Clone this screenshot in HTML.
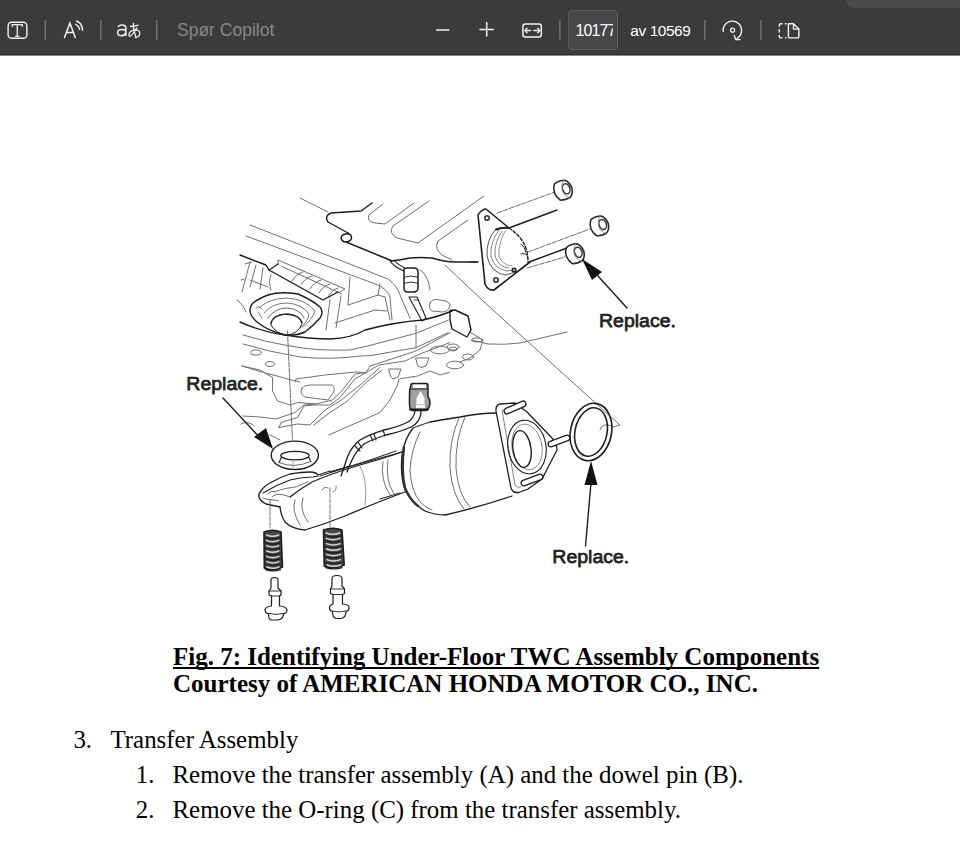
<!DOCTYPE html>
<html><head><meta charset="utf-8">
<style>
html,body{margin:0;padding:0;background:#fff;width:960px;height:842px;overflow:hidden;position:relative;}
#tb{position:absolute;left:0;top:0;width:960px;height:56px;background:#3b3b3b;}
.t{position:absolute;white-space:nowrap;font-family:"Liberation Serif",serif;font-size:24.9px;line-height:30px;color:#000;}
.b{font-weight:bold;font-size:25px;}
.s{font-family:"Liberation Sans",sans-serif;}
#drw{position:absolute;left:0;top:0;}
</style></head><body>
<div id="tb">
<div style="position:absolute;left:0;top:54px;width:960px;height:1px;background:#2f2f2f"></div>
<div style="position:absolute;left:0;top:55px;width:960px;height:1px;background:#8a8a8a"></div>
<div style="position:absolute;left:846px;top:-10px;width:130px;height:17.5px;background:#4a4a4a;border-radius:9px;"></div>
<svg width="960" height="56" style="position:absolute;left:0;top:0" fill="none" stroke="#f2f2f2" stroke-width="1.5" stroke-linecap="round">
<rect x="8.1" y="22.3" width="18.8" height="16" rx="3.6" stroke-width="1.4"/>
<path d="M12.3 26.3 V24.7 H22.3 V26.3 M17.3 24.7 V36.3 M15.6 36.4 H19" stroke-width="1.3"/>
<g stroke="#757575" stroke-width="1.4" stroke-linecap="butt">
<path d="M45.3 20 V39.8 M100.8 20 V39.8 M156.7 20 V39.8 M559.9 20 V39.8 M704.8 20.3 V39.8 M761 20.3 V39.8"/>
</g>
<path d="M64.5 37.6 L69.9 23.2 L75.3 37.6 M66.3 32.6 H73.6"/>
<path d="M75.8 24.3 Q78.8 25.8 79.6 29.3 M76.6 21 Q82 23 82.6 30.3" stroke-width="1.4"/>
<path d="M125.9 35.6 V28.3 Q125.9 25 122 25 Q119.5 25 118.2 26.5 M125.9 30.5 Q124 29.4 121.8 29.4 Q117.6 29.4 117.6 32.6 Q117.6 35.7 121.2 35.7 Q124.3 35.7 125.9 33"/>
<path d="M130.5 26.5 Q134.5 26.4 138 25.2 M133.4 23.4 Q133.2 30 135.6 36.5 M136.8 28 Q133 34 130.5 36 Q128.6 37.2 129 34.2 Q129.8 30.4 135 29.9 Q139.8 29.8 139.8 33.4 Q139.8 36.6 135.5 37.6" stroke-width="1.3"/>
<path d="M436.7 29.9 H448.8 M480 29.4 H493.4 M486.7 22.5 V35.9"/>
<rect x="522.9" y="23.9" width="18.4" height="13" rx="2.4"/>
<path d="M524.8 30.5 H530.7 M527 28.3 L524.8 30.5 L527 32.7 M534 30.5 H539.9 M537.7 28.3 L539.9 30.5 L537.7 32.7" stroke-width="1.3"/>
<path d="M723.1 31.5 A9.3 9.3 0 1 1 737 38.5" stroke-width="1.4"/>
<path d="M734.2 35.5 L735.8 39.6 L740 39.6" stroke-width="1.4"/>
<circle cx="732.6" cy="30.2" r="2" stroke-width="1.3"/>
<path d="M782.5 23.7 H780.8 Q779.3 23.7 779.3 25.2 V26.8 M779.3 29.3 V32.6 M779.3 35 V36.4 Q779.3 37.9 780.8 37.9 H782.5 M784.8 37.9 H786.6 M784.8 23.7 H786.6" stroke-width="1.4" stroke-linecap="butt"/>
<path d="M788.4 23.7 H793.5 L798.9 29.1 V36.4 Q798.9 37.9 797.4 37.9 H789.9 Q788.4 37.9 788.4 36.4 Z M793.5 23.7 V29.1 H798.9" stroke-width="1.4" stroke-linejoin="round"/>
</svg>
<div class="s" style="position:absolute;left:177px;top:19px;font-size:17.5px;line-height:22px;color:#888;font-family:'Liberation Sans',sans-serif;white-space:nowrap">Spør Copilot</div>
<div style="position:absolute;left:568px;top:10px;width:48px;height:38px;border:1px solid #5e5e5e;background:#474747;border-radius:4px;"></div>
<div style="position:absolute;left:575.5px;top:19.5px;width:37px;height:22px;overflow:hidden;font-family:'Liberation Sans',sans-serif;font-size:16px;letter-spacing:-0.9px;line-height:22px;color:#fff;white-space:nowrap">10177</div>
<div style="position:absolute;left:630.3px;top:19.5px;font-family:'Liberation Sans',sans-serif;font-size:15.4px;letter-spacing:-0.4px;line-height:22px;color:#fff;white-space:nowrap">av 10569</div>
</div>
<svg id="drw" width="960" height="842" viewBox="0 0 960 842">
<g fill="none" stroke-linecap="round" stroke-linejoin="round">
<!-- ========== thin structure lines (gray) ========== -->
<g stroke="#707070" stroke-width="1">
<!-- top dashed lines -->
<path d="M300 198 L328 212"/>
<path d="M250 225 L388 279 Q397 285 400 295 L410 318"/>
<path d="M246 236 L378 285 Q388 290 390 297 L392 320"/>
<!-- top rounded panel shapes -->
<path d="M383 204 L369 215 Q366 221 375 223 L385 224 L414 203"/>
<path d="M429 201 L393 226 Q388 233 397 238 L418 243 L484 196"/>
<path d="M468 220 L438 241 Q434 249 442 255 L452 260"/>
<!-- stud guide lines -->
<path d="M497 213 L555 192" stroke-dasharray="5 1.5"/>
<path d="M528 252 L590 229" stroke-dasharray="5 1.5"/>
<path d="M527 268 L565 257" stroke-dasharray="5 1.5"/>
<!-- hatched parallelogram -->
<path d="M278 264 L278 260 L345 289 L340 292"/>
<path d="M281 266 L342 294"/>
<path d="M292 281 Q296 274 303 272 M301 285 Q305 278 312 276 M310 289 Q314 282 321 280 M319 293 Q323 286 330 284 M328 297 Q332 290 338 288"/>
<!-- left small vertical lines -->
<path d="M250 262 L242 292 M256 265 L250 287 M263 268 L260 289 M271 275 Q268 283 271 290 M245 264 L252 262 M250 280 L268 287 M241 280 L244 279"/>
<!-- box structure below the parallel lines -->
<path d="M350 277 L348 305 L378 295 L380 284 M378 295 L385 297 L390 320"/>
<path d="M335 323 L375 310 L387 311"/>
<path d="M330 300 L326 330 M341 296 L336 328"/>
<!-- mount-side lines -->
<path d="M237 300 Q244 305 246 312"/>
<!-- below frame -->
<path d="M243 335 Q265 342 290 346 Q315 351 350 350 L370 345.4 L415.8 333.4 L448 320.2"/>
<path d="M243 344 Q270 352 300 357 Q330 360 360 356 L370 355.7 L415.8 347.7 L448 332.8"/>
<ellipse cx="256" cy="352.5" rx="5.5" ry="2.6"/>
<ellipse cx="270" cy="364" rx="4.5" ry="2.4"/>
<path d="M242 366 Q260 372 277 376 Q290 380 300 382"/>
<path d="M287.5 331 L292.5 441" stroke-dasharray="5 1.2"/>
<path d="M416 325 V348"/>
<!-- middle structure -->
<path d="M242 366 L260 370 L272.5 377.5 L272.5 391 L277.5 401 L290 405 L297.5 402.5 L316 404 L332.5 400 L342.5 390 L355 374 L366 372.5"/>
<path d="M295 382 L296 379 L325 375 L355 372 L366 372.5 L370 366 L415.8 351 L450 332.8"/>
<path d="M302 388 Q304 385 310 385 L332 385 Q336 388 333 393 L328 400 L305 397 Q299 394 302 388 Z"/>
<path d="M243 416 L260 417 L276 419 L295 412.5 L304 405 L315 404"/>
<path d="M279 427.5 L281 422.5 L297.5 417.5 L304 406 L312.5 405 L330 405 L340 397.5 L355 379 L379 365 L405 361 L420 354 L450 342.5"/>
<path d="M279 427.5 L297.5 424 L310 425 L325 410 L340 401 L360 385 L380 367.5"/>
<path d="M313.75 425 L330 412.5 L347.5 401 L366 382.5 L382 370"/>
<path d="M328.75 435 L380 412.5 L390 400 L397.5 385 L399 379"/>
<path d="M389 369 L401 369 L398 377 L393 379 L391 377 Z"/>
<path d="M416 358 L429 358 L426 366 L421 367.5 L418 366 Z"/>
<path d="M400 378.75 L417.5 376 L430 371 L440 375 L449 372.5"/>
<path d="M241 424 Q248 420 254 426"/>
<path d="M270 435 Q276 438 280 440"/>
<!-- bracket face + floor blobs -->
<path d="M445 265 L482 300 L570 380 L620 425 L613 427"/>
<path d="M612 426 Q602 422 600 430"/>
<path d="M472 340 L488 344 Q505 345 520 343 L567 332"/>
<path d="M470 332 L483 340 L480 350 L470 358 L460 362"/>
<ellipse cx="477" cy="340" rx="5.5" ry="2"/>
<ellipse cx="453" cy="347" rx="6" ry="3"/>
<ellipse cx="453" cy="349" rx="4" ry="2"/>
<ellipse cx="440" cy="350" rx="9.5" ry="3.8"/>
<ellipse cx="468" cy="357" rx="5.5" ry="3"/>
<ellipse cx="455" cy="365" rx="8.5" ry="3.8"/>
<path d="M430 303 Q432 298 440 300 Q447 300 450 304 Q450 311 443 312 L432 311 Q428 308 430 303 Z"/>
<path d="M420 270 Q428 274 430 290"/>
</g>
<!-- ========== dark lines ========== -->
<g stroke="#1e1e1e" stroke-width="1.4">
<!-- wire top -->
<path d="M372 203 L361 211 Q345 212 331 213 Q324 216 328 222 L349 233.5 Q341 234 341 238 Q342 242 346 242 Q352 241 351.5 237 Q351 234 348 234 M346 242 L380 256 Q388 259 392 261 Q400 260 410 258 Q420 257 432 258 Q445 262 455 262 L478 262"/>
<!-- frame upper dark line -->
<path d="M240 255 L266 265 L269 270 L323 300 L338 292"/>
<path d="M269 270 L278 264" stroke-width="1.2"/>
<!-- frame lower dark line -->
<path d="M240 322 Q262 332 285 335 Q310 339 330 339 Q352 338 365 330 Q395 322 423 320 Q440 316 452 311"/>
<!-- bracket -->
<path d="M450 310.5 L455 310 L468 316 L471 330 L467 337 L452 329 L450 320 Z"/>
<!-- mount -->
<path d="M253 303 Q258 299 268 295 Q280 291 298 294 Q312 300 320 307 Q324 312 320 318 Q313 326 305 332 Q296 336 285 335 Q268 331 257 322 Q250 316 250 310 Q250 306 253 303 Z"/>
<path d="M259 308 Q270 298 287 298 Q305 299 315 311 Q312 320 303 327" stroke-width="0.9" stroke="#666"/>
<path d="M264 313 Q272 303 287 303 Q302 304 309 314 Q308 322 300 328" stroke-width="0.9" stroke="#666"/>
<path d="M268 318 Q275 308 287 308 Q300 309 304 318" stroke-width="0.9" stroke="#555"/>
<path d="M271 324 Q272 315 287 314 Q300 315 302 323" stroke-width="1.5"/>
<path d="M271 325 Q276 334 287 335 Q298 334 302 324" stroke-width="1"/>
<path d="M258 312 L262 318 M256 308 Q259 305 262 309" stroke-width="0.8" stroke="#666"/>
<!-- connector top -->
<path d="M390 260 Q392 266 404 271 M394 260 Q398 265 405 268" stroke-width="1.1"/>
<path d="M404 270 Q404 268 408 268 L414 268 Q418 268 418 272 L418 288 Q418 292 413 292 L408 292 Q404 292 404 288 Z" stroke-width="1.5" fill="#fff"/>
<path d="M405 277 Q411 275 417 277 M405 283 Q411 281 417 283" stroke-width="0.9"/>
<path d="M409 297 L417 297 L426 318 L422 321 Z" stroke-width="1.1"/>
<path d="M414 300 L418 300" stroke-width="0.8"/>
<!-- front flange -->
<path d="M485 209 Q480 211 478 215 L485 284 Q488 291 494 290 L530 262" stroke-width="1.6"/>
<path d="M486 209 L509 228" stroke-width="1.6"/>
<path d="M509 228 L557 210"/>
<path d="M529 262 L567 248"/>
<path d="M470 262 H477" stroke-width="1.2"/>
<path d="M509 228 Q524 238 527 252 Q528 258 528 262" stroke-dasharray="3 2"/>
<path d="M496 229 Q486 240 487 256 Q490 272 505 275 Q512 274 516 271" stroke-width="1" stroke="#555"/>
<path d="M499 230 Q490 242 491 256 Q494 269 507 271 L514 270" stroke-width="0.9" stroke="#777"/>
<path d="M502 231 Q494 243 495 256 Q498 267 509 268" stroke-width="0.9" stroke="#777"/>
<path d="M505 231 Q498 244 499 256 Q502 265 512 266" stroke-width="0.9" stroke="#888"/>
<path d="M496 229.5 Q502 227 509 228" stroke-width="2"/>
<path d="M521 244 Q525 247 526 252 M521 254 Q527 252 528 258" stroke-width="1"/>
<circle cx="487" cy="218" r="2.2" stroke-width="1.8" stroke="#444"/>
<circle cx="496" cy="280" r="2.2" stroke-width="1.8" stroke="#444"/>
<circle cx="514" cy="270" r="1.8" stroke-width="1.6"/>
<!-- nuts -->
<g transform="translate(563 190) rotate(-20)">
<path d="M-6 -8.5 Q-1 -10.5 5 -8.5 Q9 -5 9 1 Q8.5 7 4 9.5 Q-2 10.5 -6 8.5 Q-9 4 -9 0 Q-9 -5 -6 -8.5 Z" stroke-width="1.6" stroke="#2a2a2a" fill="#fff"/>
<ellipse cx="3.5" cy="0" rx="3.6" ry="5.2" stroke-width="1.5" stroke="#333"/>
<path d="M3.5 -8.8 Q-1 -4 -1 1 Q-1 6 3.5 9.5" stroke-width="0.8" stroke="#888"/>
</g>
<g transform="translate(599.4 225.7) rotate(-20)">
<path d="M-6 -8.5 Q-1 -10.5 5 -8.5 Q9 -5 9 1 Q8.5 7 4 9.5 Q-2 10.5 -6 8.5 Q-9 4 -9 0 Q-9 -5 -6 -8.5 Z" stroke-width="1.6" stroke="#2a2a2a" fill="#fff"/>
<ellipse cx="3.5" cy="0" rx="3.6" ry="5.2" stroke-width="1.5" stroke="#333"/>
<path d="M3.5 -8.8 Q-1 -4 -1 1 Q-1 6 3.5 9.5" stroke-width="0.8" stroke="#888"/>
</g>
<g transform="translate(575 253.5) rotate(-20)">
<path d="M-6 -8.5 Q-1 -10.5 5 -8.5 Q9 -5 9 1 Q8.5 7 4 9.5 Q-2 10.5 -6 8.5 Q-9 4 -9 0 Q-9 -5 -6 -8.5 Z" stroke-width="1.6" stroke="#2a2a2a" fill="#fff"/>
<ellipse cx="3.5" cy="0" rx="3.6" ry="5.2" stroke-width="1.5" stroke="#333"/>
<path d="M3.5 -8.8 Q-1 -4 -1 1 Q-1 6 3.5 9.5" stroke-width="0.8" stroke="#888"/>
</g>
<!-- right-top arrow -->
<path d="M598 276 L627 308"/>
</g>
<path d="M582 259 L602 272 L592 280 Z" fill="#111"/>
<path d="M273 449 L254 437 L266 428 Z" fill="#111"/>
<path d="M223 398 L262 440" stroke="#1e1e1e" stroke-width="1.4"/>
<path d="M591 461 L584.5 485 L597.5 485 Z" fill="#111"/>
<path d="M591 483 L585.5 546" stroke="#1e1e1e" stroke-width="1.4"/>
</g>
<g fill="none" stroke-linecap="round" stroke-linejoin="round">
<!-- labels -->
<g fill="#222" stroke="#222" stroke-width="0.75" font-family="Liberation Sans, sans-serif" font-weight="normal" font-size="19.2">
<text x="186.3" y="389.8" textLength="77" lengthAdjust="spacingAndGlyphs">Replace.</text>
<text x="599" y="327.2" textLength="77" lengthAdjust="spacingAndGlyphs">Replace.</text>
<text x="552.3" y="563.4" textLength="77" lengthAdjust="spacingAndGlyphs">Replace.</text>
</g>
<!-- cup seal -->
<g stroke="#1e1e1e" stroke-width="1.4">
<ellipse cx="294.8" cy="455.3" rx="23.6" ry="14.2"/>
<ellipse cx="295" cy="455.6" rx="14.2" ry="4.3" stroke-width="1.3"/>
<path d="M281.5 457 L279 462.5 M308.5 457 L310.8 461.5" stroke-width="1.1"/>
<path d="M279 462.5 Q294 469 310.8 461.5" stroke-width="0.9" stroke="#555"/>
</g>
<path d="M292.5 432 V441 M293 460 V469" stroke="#999" stroke-width="0.8"/>
<!-- front pipe flange and pipe -->
<g stroke="#1e1e1e" stroke-width="1.3">
<path d="M261 491 Q264 486 270 483 Q280 477 290 474 Q302 472 310 472 Q316 472 318 475 L330 471"/>
<path d="M261 491 Q258 494 259 497 Q260 501 266 504 L280 507"/>
<path d="M263 493 Q276 485 290 480 Q302 477 313 477 L318 476" stroke-width="1.1"/>
<path d="M274 491.7 Q285 488 296.7 486.7 Q303 484 308 481.7" stroke-width="0.9" stroke="#666"/>
<path d="M263 498 L266 499 L278 500.5" stroke-width="0.9" stroke="#555"/>
<path d="M280 507 Q281 516 285 522 Q292 529 305 530 Q325 524 345 516 Q380 501 405 492"/>
<path d="M290 497 Q300 489 312 482 Q330 474 360 465 Q385 458 402 452"/>
<path d="M320 476 Q345 468 370 460 L396 451" stroke-width="1"/>
<path d="M330 472 L350 466" stroke-width="1"/>
</g>
<g stroke="#707070" stroke-width="1">
<path d="M272 497 Q275 493 284 495 L290 497"/>
<path d="M268 494 Q270 490 275 492"/>
<path d="M295 500 Q291 510 300 525"/>
<path d="M303 498 Q299 510 308 522"/>
<path d="M270 500 V528" stroke-dasharray="4 1.5"/>
<path d="M330 488 V527" stroke-dasharray="4 1.5"/>
<path d="M322 490 Q324 486 328 488 M333 492 Q337 490 336 486"/>
<path d="M383 462 Q380 480 390 495"/>
<path d="M388 460 Q385 480 394 494"/>
</g>
<!-- sensor cable -->
<g stroke="#1e1e1e" stroke-width="1.3">
<path d="M411 385 Q411 383.5 413 383.5 L426 383.5 Q428 383.5 428 386 L428 397 Q430 399 430 404 Q429 409 426 410.5 L412 410.5 Q409.5 409 409.5 404 L409.5 396 Q409 390 411 385 Z" fill="#a0a0a0" stroke-width="1.5"/>
<path d="M413 384.5 H426 V388 H413 Z" fill="#fff" stroke="none"/>
<path d="M420.5 391 L424.5 398 L424.5 404 L416.5 404 L416.5 398 Z" fill="#fff" stroke="none"/>
<path d="M416 404.5 H425 V408.5 H416 Z" fill="#f2f2f2" stroke="none"/>
<path d="M411 389 H427" stroke-width="1.1"/>
<path d="M410 409.5 H428" stroke-width="2"/>
<path d="M415 411 Q414 418 408 422 Q398 427 384 430 Q370 434 360 440 Q351 447 347 458 Q344 468 341 476"/>
<path d="M421 411 Q421 422 411 427 Q400 432 386 435 Q373 439 364 444 Q356 451 352 460 Q349 466 347 472"/>
<path d="M358 442 L362 448 M355 446 L360 451 M370 435 L373 441 M374 434 L376 440 M383 430 L385 436" stroke-width="1.1"/>
</g>
<!-- converter -->
<g stroke="#1e1e1e" stroke-width="1.3">
<path d="M497 413 Q480 413 460 417 Q440 420 430 422 Q418 426 413 428 Q404 440 402 455 Q400 475 405 490 Q412 503 425 511 Q435 515 445 515 Q480 507 512 496"/>
<path d="M404 447 Q401 470 405 488 Q410 500 418 506" stroke-width="2.4" stroke="#333"/>
<path d="M330 472 L402 452" stroke-width="1.1"/>
<path d="M380 499 L400 493" stroke-width="1"/>
</g>
<g stroke="#707070" stroke-width="1">
<path d="M420 432 Q411 450 410 470 Q411 490 420 502 Q426 508 432 510"/>
<path d="M459 418 Q449 440 450 468 Q452 495 464 509"/>
<path d="M465 417 Q455 440 456 468 Q458 495 470 507"/>
<path d="M360 466 Q368 480 365 505" stroke="#999"/>
</g>
<!-- rear flange -->
<g stroke="#1e1e1e" stroke-width="1.3">
<path d="M500 404 Q495.5 405 496 411 L511 488 Q513 494 520 492 L528 489 L542 479 L557 450 Q557 443 552 438 L527 412 L515 403 Z" fill="#fff"/>
<path d="M502 410 L515 485 Q517 488 521 487" stroke-width="0.9" stroke="#777"/>
<ellipse cx="527" cy="447" rx="19" ry="27" transform="rotate(-10 527 447)" stroke-width="1.1"/>
<ellipse cx="527" cy="447" rx="15" ry="23" transform="rotate(-10 527 447)" stroke-width="0.8" stroke="#777"/>
<ellipse cx="522" cy="449" rx="9" ry="18.5" transform="rotate(-8 522 449)" stroke-width="1.4"/>
<path d="M507 411 L523 404" stroke-width="7" stroke="#1e1e1e"/>
<path d="M507 411 L523 404" stroke-width="4.4" stroke="#fff"/>
<path d="M551 444 L567 438" stroke-width="7" stroke="#1e1e1e"/>
<path d="M551 444 L567 438" stroke-width="4.4" stroke="#fff"/>
<path d="M524 483 L540 477" stroke-width="7" stroke="#1e1e1e"/>
<path d="M524 483 L540 477" stroke-width="4.4" stroke="#fff"/>
</g>
<!-- O-ring -->
<g stroke="#1e1e1e">
<ellipse cx="591" cy="432" rx="20.5" ry="29" transform="rotate(12 591 432)" stroke-width="1.6"/>
<ellipse cx="591" cy="432" rx="16" ry="24.5" transform="rotate(12 591 432)" stroke-width="1.6"/>
</g>
<!-- springs -->
<g fill="none">
<path d="M264 532 Q272.5 528.5 281 532 L282.5 567 Q273.0 572 264.3 568 Z" fill="#474747" stroke="#1e1e1e" stroke-width="1.6"/>
<path d="M266.5609756097561 535.0 Q272.5609756097561 537.6 278.5609756097561 535.0" stroke="#d8d8d8" stroke-width="1.5"/>
<path d="M265.0609756097561 537.6 Q272.5609756097561 540.0 280.0609756097561 537.6" stroke="#1a1a1a" stroke-width="1.2"/>
<path d="M266.6260162601626 540.3333333333334 Q272.6260162601626 542.9333333333334 278.6260162601626 540.3333333333334" stroke="#d8d8d8" stroke-width="1.5"/>
<path d="M265.1260162601626 542.9333333333334 Q272.6260162601626 545.3333333333334 280.1260162601626 542.9333333333334" stroke="#1a1a1a" stroke-width="1.2"/>
<path d="M266.6910569105691 545.6666666666666 Q272.6910569105691 548.2666666666667 278.6910569105691 545.6666666666666" stroke="#d8d8d8" stroke-width="1.5"/>
<path d="M265.1910569105691 548.2666666666667 Q272.6910569105691 550.6666666666666 280.1910569105691 548.2666666666667" stroke="#1a1a1a" stroke-width="1.2"/>
<path d="M266.7560975609756 551.0 Q272.7560975609756 553.6 278.7560975609756 551.0" stroke="#d8d8d8" stroke-width="1.5"/>
<path d="M265.2560975609756 553.6 Q272.7560975609756 556.0 280.2560975609756 553.6" stroke="#1a1a1a" stroke-width="1.2"/>
<path d="M266.8211382113821 556.3333333333334 Q272.8211382113821 558.9333333333334 278.8211382113821 556.3333333333334" stroke="#d8d8d8" stroke-width="1.5"/>
<path d="M265.3211382113821 558.9333333333334 Q272.8211382113821 561.3333333333334 280.3211382113821 558.9333333333334" stroke="#1a1a1a" stroke-width="1.2"/>
<path d="M266.8861788617886 561.6666666666666 Q272.8861788617886 564.2666666666667 278.8861788617886 561.6666666666666" stroke="#d8d8d8" stroke-width="1.5"/>
<path d="M265.3861788617886 564.2666666666667 Q272.8861788617886 566.6666666666666 280.3861788617886 564.2666666666667" stroke="#1a1a1a" stroke-width="1.2"/>
<path d="M266.9512195121951 567.0 Q272.9512195121951 569.6 278.9512195121951 567.0" stroke="#d8d8d8" stroke-width="1.5"/>
<path d="M265.4512195121951 569.6 Q272.9512195121951 572.0 280.4512195121951 569.6" stroke="#1a1a1a" stroke-width="1.2"/>
<path d="M323.5 530 Q332.75 526.5 342.0 530 L344.2 565 Q333.95 570 324.22 566 Z" fill="#474747" stroke="#1e1e1e" stroke-width="1.6"/>
<path d="M326.1463414634146 533.0 Q332.8963414634146 535.6 339.6463414634146 533.0" stroke="#d8d8d8" stroke-width="1.5"/>
<path d="M324.6463414634146 535.6 Q332.8963414634146 538.0 341.1463414634146 535.6" stroke="#1a1a1a" stroke-width="1.2"/>
<path d="M326.30243902439025 538.3333333333334 Q333.05243902439025 540.9333333333334 339.80243902439025 538.3333333333334" stroke="#d8d8d8" stroke-width="1.5"/>
<path d="M324.80243902439025 540.9333333333334 Q333.05243902439025 543.3333333333334 341.30243902439025 540.9333333333334" stroke="#1a1a1a" stroke-width="1.2"/>
<path d="M326.45853658536583 543.6666666666666 Q333.20853658536583 546.2666666666667 339.95853658536583 543.6666666666666" stroke="#d8d8d8" stroke-width="1.5"/>
<path d="M324.95853658536583 546.2666666666667 Q333.20853658536583 548.6666666666666 341.45853658536583 546.2666666666667" stroke="#1a1a1a" stroke-width="1.2"/>
<path d="M326.6146341463415 549.0 Q333.3646341463415 551.6 340.1146341463415 549.0" stroke="#d8d8d8" stroke-width="1.5"/>
<path d="M325.1146341463415 551.6 Q333.3646341463415 554.0 341.6146341463415 551.6" stroke="#1a1a1a" stroke-width="1.2"/>
<path d="M326.77073170731705 554.3333333333334 Q333.52073170731705 556.9333333333334 340.27073170731705 554.3333333333334" stroke="#d8d8d8" stroke-width="1.5"/>
<path d="M325.27073170731705 556.9333333333334 Q333.52073170731705 559.3333333333334 341.77073170731705 556.9333333333334" stroke="#1a1a1a" stroke-width="1.2"/>
<path d="M326.9268292682927 559.6666666666666 Q333.6768292682927 562.2666666666667 340.4268292682927 559.6666666666666" stroke="#d8d8d8" stroke-width="1.5"/>
<path d="M325.4268292682927 562.2666666666667 Q333.6768292682927 564.6666666666666 341.9268292682927 562.2666666666667" stroke="#1a1a1a" stroke-width="1.2"/>
<path d="M327.0829268292683 565.0 Q333.8329268292683 567.6 340.5829268292683 565.0" stroke="#d8d8d8" stroke-width="1.5"/>
<path d="M325.5829268292683 567.6 Q333.8329268292683 570.0 342.0829268292683 567.6" stroke="#1a1a1a" stroke-width="1.2"/>
</g>
<!-- bolts -->
<g stroke="#1e1e1e" stroke-width="1.2" fill="#fff">
<path d="M271 588 V580 Q271 577.5 274.5 577.5 Q278 577.5 278 580 V588 L281 591 L281 595 L279.5 596 V606 Q286 606.5 287 609.5 Q287 613 283.5 614 Q283.5 619 278 620 L271 620 Q268.5 619 268.5 614 Q265 613 265 609.5 Q266 606.5 271.5 606 V596 L269 595 L269 591 Z"/>
<path d="M268.5 613.5 Q276 615.5 283.5 613.5 M269 591 H281 M271.5 596 H279.5" stroke-width="0.9"/>
<path d="M332 586 V578.5 Q332 575.5 337 575.5 Q342 575.5 342 578.5 V586 L344.5 589 L344.5 593.5 L342.5 594.5 V604 Q349 604.5 349 607.5 Q349 611 346 611.5 Q346 617.5 341 618.5 L336 618.5 Q332.5 617.5 332.5 611.5 Q329.5 611 329.5 607.5 Q330 604.5 333 604 V594.5 L330.5 593.5 L330.5 589 Z"/>
<path d="M332.5 611 Q339 613 346 611 M330.5 589 H344.5 M333 594.5 H342.5" stroke-width="0.9"/>
</g>
</g>

</svg>
<div class="t b" style="left:173px;top:641.8px;text-decoration:underline;text-decoration-skip-ink:none;">Fig. 7: Identifying Under-Floor TWC Assembly Components</div>
<div class="t b" style="left:173px;top:669px;">Courtesy of AMERICAN HONDA MOTOR CO., INC.</div>
<div class="t" style="left:73.4px;top:725px;">3.</div>
<div class="t" style="left:110.5px;top:725px;">Transfer Assembly</div>
<div class="t" style="left:135.7px;top:760px;">1.</div>
<div class="t" style="left:172.5px;top:760px;">Remove the transfer assembly (A) and the dowel pin (B).</div>
<div class="t" style="left:135.7px;top:795px;">2.</div>
<div class="t" style="left:172.5px;top:795px;">Remove the O-ring (C) from the transfer assembly.</div>
</body></html>
